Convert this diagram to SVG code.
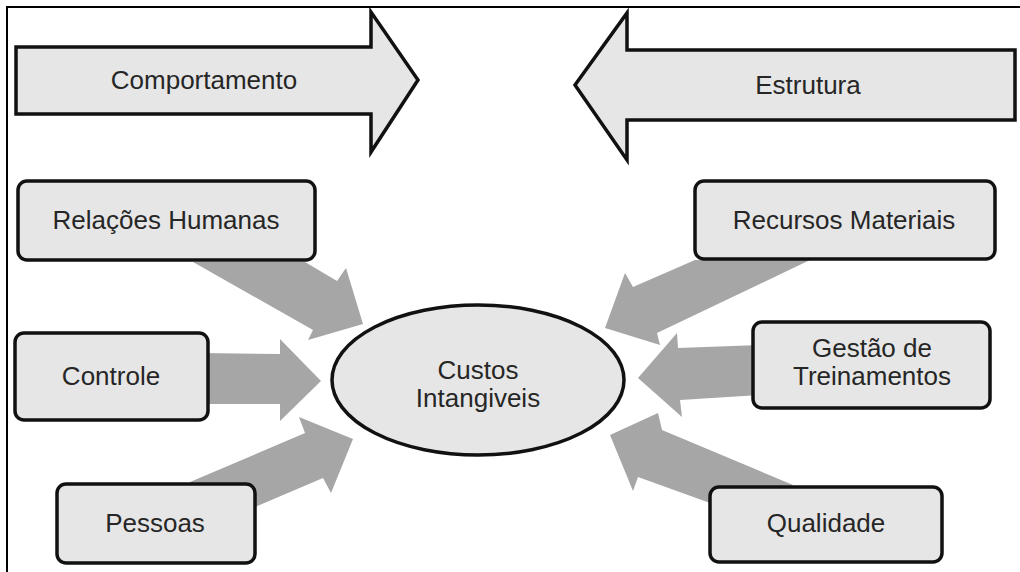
<svg xmlns="http://www.w3.org/2000/svg" width="1020" height="572" viewBox="0 0 1020 572">
<style>
.frame{fill:none;stroke:#000;stroke-width:2}
.big{fill:#e6e6e6;stroke:#111;stroke-width:3.5;stroke-linejoin:miter}
.box{fill:#e6e6e6;stroke:#111;stroke-width:3.5}
.conn{fill:#a6a6a6;stroke:none}
text{font-family:"Liberation Sans",Arial,sans-serif;font-size:26px;fill:#262626;text-anchor:middle}
</style>
<rect width="1020" height="572" fill="#fff"/>
<path class="frame" d="M7,572 V7 H1020"/>
<g id="comportamento">
<polygon class="big" points="16,47 371,47 371,12 418,80 371,152 371,114 16,114"/>
<text x="204" y="89">Comportamento</text>
</g>
<g id="estrutura">
<polygon class="big" points="1015,50 627,50 627,13 575,85 627,160 627,120 1015,120"/>
<text x="808" y="94">Estrutura</text>
</g>
<g id="connectors">
<polygon class="conn" points="193,262 305,262 337,281 346,268 363,324 308,340 313,330"/>
<polygon class="conn" points="200,353 280,354 280,339 321,381 280,421 280,404 200,404"/>
<polygon class="conn" points="190,482 305,433 299,417 353,439 331,493 323,478 255,507 200,510"/>
<polygon class="conn" points="810,260 695,260 633,287 625,273 605,328 660,345 657,333"/>
<polygon class="conn" points="760,345 678,348 677,333 638,378 682,417 680,400 760,395"/>
<polygon class="conn" points="793,485 662,430 658,413 610,435 633,491 638,477 710,503 760,510"/>
</g>
<g id="relacoes-humanas">
<rect class="box" x="18" y="181" width="297" height="79" rx="9"/>
<text x="166" y="229">Relações Humanas</text>
</g>
<g id="controle">
<rect class="box" x="15" y="333" width="193" height="87" rx="9"/>
<text x="111" y="385">Controle</text>
</g>
<g id="pessoas">
<rect class="box" x="57" y="484" width="198" height="79" rx="9"/>
<text x="155" y="532">Pessoas</text>
</g>
<g id="recursos-materiais">
<rect class="box" x="695" y="181" width="300" height="78" rx="9"/>
<text x="844" y="229">Recursos Materiais</text>
</g>
<g id="gestao-treinamentos">
<rect class="box" x="753" y="322" width="237" height="86" rx="9"/>
<text x="872" y="357">Gestão de</text>
<text x="872" y="385">Treinamentos</text>
</g>
<g id="qualidade">
<rect class="box" x="710" y="487" width="232" height="75" rx="9"/>
<text x="826" y="532">Qualidade</text>
</g>
<g id="custos-intangiveis">
<ellipse class="box" cx="478" cy="380" rx="146" ry="75"/>
<text x="478" y="379">Custos</text>
<text x="478" y="407">Intangiveis</text>
</g>
</svg>
